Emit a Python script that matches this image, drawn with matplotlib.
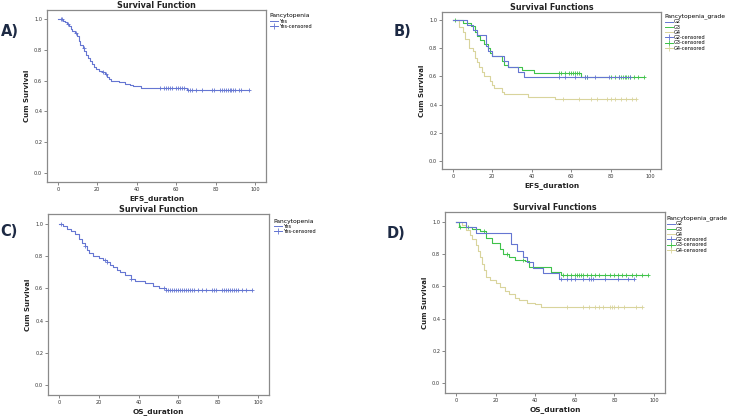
import numpy as np
import matplotlib.pyplot as plt

# ---- data ----
# A) EFS, pancytopenia = Yes
a_times = [0, 2.5, 3.5, 4.5, 5.5, 6.5, 7.0, 8.5, 9.5, 10.5, 11.0, 12.5, 13.5, 14.5, 15.5,
           16.5, 17.5, 18.5, 19.5, 21.0, 22.5, 24.0, 25.0, 26.0, 27.0, 31.0, 34.0, 36.5,
           38.0, 42.0, 65.5]
a_surv = [1.0, 0.99, 0.98, 0.97, 0.955, 0.935, 0.92, 0.91, 0.89, 0.86, 0.83, 0.81, 0.79,
          0.77, 0.75, 0.73, 0.71, 0.69, 0.675, 0.665, 0.655, 0.64, 0.625, 0.61, 0.60,
          0.59, 0.58, 0.57, 0.563, 0.553, 0.538]
a_cens = [1.5, 2, 5, 9, 13, 23, 24.5, 52, 54, 55, 56, 57, 58, 60, 61, 62, 63, 64, 66, 67,
          68, 70, 73, 78, 79, 82, 83, 84, 85, 86, 87, 88, 89, 90, 92, 93, 97]

# C) OS, pancytopenia = Yes
c_times = [0, 2, 4, 6, 8, 10, 11.5, 13, 14, 15, 17, 20, 22, 24, 25.5, 27, 29, 30.5, 33,
           36, 38, 43, 47, 50, 54]
c_surv = [1.0, 0.985, 0.97, 0.955, 0.935, 0.905, 0.88, 0.86, 0.84, 0.82, 0.80, 0.79,
          0.775, 0.76, 0.745, 0.73, 0.715, 0.70, 0.68, 0.66, 0.645, 0.63, 0.615, 0.60, 0.588]
c_cens = [1, 13, 23, 24, 36, 53, 54, 55, 56, 57, 58, 59, 60, 61, 62, 63, 64, 65, 66, 67,
          68, 70, 72, 74, 77, 78, 79, 82, 83, 84, 85, 86, 87, 88, 89, 90, 92, 94, 97]

# B) EFS by grade
b_g2_times = [0, 7, 10, 12, 17, 18, 20, 26, 28, 33, 36]
b_g2_surv = [1.0, 0.965, 0.93, 0.895, 0.82, 0.78, 0.745, 0.71, 0.67, 0.63, 0.595]
b_g2_cens = [54, 57, 62, 67, 68, 72, 79, 84, 90]
b_g3_times = [0, 5, 9, 11, 12, 14, 16, 18, 19, 20, 25, 26, 28, 35, 41, 65]
b_g3_surv = [1.0, 0.98, 0.96, 0.92, 0.89, 0.86, 0.83, 0.80, 0.77, 0.745, 0.71, 0.68,
             0.665, 0.645, 0.628, 0.598]
b_g3_cens = [1, 54, 55, 57, 59, 60, 61, 62, 63, 64, 67, 68, 80, 82, 84, 85, 86, 87, 88,
             89, 90, 92, 94, 97]
b_g4_times = [0, 3, 5, 6, 8, 10, 11, 12, 13, 15, 16, 19, 20, 21, 25, 26, 38, 52]
b_g4_surv = [1.0, 0.95, 0.92, 0.87, 0.80, 0.78, 0.73, 0.70, 0.67, 0.63, 0.60, 0.57,
             0.54, 0.515, 0.49, 0.472, 0.455, 0.437]
b_g4_cens = [56, 64, 70, 73, 78, 80, 82, 85, 88, 91, 93]

# D) OS by grade
d_g2_times = [0, 5, 10, 28, 31, 34, 36, 39, 44, 52]
d_g2_surv = [1.0, 0.965, 0.93, 0.86, 0.82, 0.78, 0.75, 0.715, 0.68, 0.645]
d_g2_cens = [53, 56, 58, 60, 64, 67, 68, 69, 75, 82, 87, 90]
d_g3_times = [0, 1.5, 8, 12, 15, 18, 22, 24, 27, 30, 35, 37, 48, 53]
d_g3_surv = [1.0, 0.97, 0.955, 0.94, 0.90, 0.87, 0.834, 0.80, 0.78, 0.765, 0.755, 0.72,
             0.69, 0.672]
d_g3_cens = [2, 6, 14, 26, 34, 54, 56, 58, 60, 61, 62, 63, 64, 66, 68, 70, 72, 75, 78,
             80, 82, 84, 86, 89, 91, 94, 97]
d_g4_times = [0, 3, 5, 7, 8, 10, 11, 12, 13, 14, 15, 17, 20, 22, 25, 27, 30, 32, 36, 40, 43]
d_g4_surv = [1.0, 0.98, 0.95, 0.92, 0.89, 0.855, 0.82, 0.78, 0.74, 0.70, 0.66, 0.64,
             0.62, 0.595, 0.57, 0.55, 0.53, 0.515, 0.50, 0.49, 0.471]
d_g4_cens = [56, 64, 67, 70, 72, 74, 78, 79, 80, 82, 85, 91, 94]

BLUE = '#6576d2'
GREEN = '#3fc24a'
KHAKI = '#d9d49c'
FRAME = '#8a8a8a'
W, H = 732, 419


def km(ax, times, surv, cens, color):
    t = np.array(times, float)
    s = np.array(surv, float)
    end = max(max(cens), t[-1])
    ax.step(np.append(t, end), np.append(s, s[-1]), where='post', color=color, lw=0.8)
    idx = np.searchsorted(t, np.array(cens, float), side='right') - 1
    ax.plot(cens, s[idx], ls='none', marker='+', ms=3.5, mew=0.6, color=color)


def make_axes(fig, box, title, xlabel):
    x0, y0, x1, y1 = box
    ax = fig.add_axes([x0 / W, 1 - y1 / H, (x1 - x0) / W, (y1 - y0) / H])
    ax.set_xlim(-5.5, 105.5)
    ax.set_ylim(-0.06, 1.06)
    ax.set_xticks([0, 20, 40, 60, 80, 100])
    ax.set_yticks([0.0, 0.2, 0.4, 0.6, 0.8, 1.0])
    ax.set_yticklabels(['0.0', '0.2', '0.4', '0.6', '0.8', '1.0'])
    ax.tick_params(labelsize=3.6, length=2, width=0.5, color='#555555', pad=1.5,
                   labelcolor='#333333')
    for sp in ax.spines.values():
        sp.set_color(FRAME)
        sp.set_linewidth(0.9)
    ax.set_title(title, fontsize=5.8, fontweight='bold', pad=1.5, color='#222222')
    ax.set_xlabel(xlabel, fontsize=5.3, fontweight='bold', labelpad=2, color='#222222')
    ax.set_ylabel('Cum Survival', fontsize=5.0, fontweight='bold', labelpad=3,
                  color='#222222')
    return ax


def legend(ax, fig, pos, title, entries):
    handles = []
    labels = []
    for lab, col, cens in entries:
        if cens:
            h, = ax.plot([], [], color=col, lw=0.7, marker='+', ms=4, mew=0.6)
        else:
            h, = ax.plot([], [], color=col, lw=0.7)
        handles.append(h)
        labels.append(lab)
    lg = fig.legend(handles, labels, title=title, loc='upper left',
                    bbox_to_anchor=(pos[0] / W, 1 - pos[1] / H), frameon=False,
                    fontsize=3.6, title_fontsize=4.3, handlelength=1.6,
                    handletextpad=0.3, labelspacing=0.05, borderpad=0.2)
    lg._legend_box.align = 'left'


fig = plt.figure(figsize=(W / 100, H / 100), dpi=100)
fig.patch.set_facecolor('white')

# A
axA = make_axes(fig, (47, 10, 266, 182), 'Survival Function', 'EFS_duration')
km(axA, a_times, a_surv, a_cens, BLUE)
legend(axA, fig, (266, 10), 'Pancytopenia', [('Yes', BLUE, False), ('Yes-censored', BLUE, True)])

# B
axB = make_axes(fig, (442, 12, 661, 169), 'Survival Functions', 'EFS_duration')
km(axB, b_g4_times, b_g4_surv, b_g4_cens, KHAKI)
km(axB, b_g3_times, b_g3_surv, b_g3_cens, GREEN)
km(axB, b_g2_times, b_g2_surv, b_g2_cens, BLUE)
legend(axB, fig, (661, 10), 'Pancytopenia_grade',
       [('G2', BLUE, False), ('G3', GREEN, False), ('G4', KHAKI, False),
        ('G2-censored', BLUE, True), ('G3-censored', GREEN, True), ('G4-censored', KHAKI, True)])

# C
axC = make_axes(fig, (48, 214, 269, 395), 'Survival Function', 'OS_duration')
km(axC, c_times, c_surv, c_cens, BLUE)
legend(axC, fig, (270, 215), 'Pancytopenia', [('Yes', BLUE, False), ('Yes-censored', BLUE, True)])

# D
axD = make_axes(fig, (445, 212, 665, 393), 'Survival Functions', 'OS_duration')
km(axD, d_g4_times, d_g4_surv, d_g4_cens, KHAKI)
km(axD, d_g3_times, d_g3_surv, d_g3_cens, GREEN)
km(axD, d_g2_times, d_g2_surv, d_g2_cens, BLUE)
legend(axD, fig, (663, 212), 'Pancytopenia_grade',
       [('G2', BLUE, False), ('G3', GREEN, False), ('G4', KHAKI, False),
        ('G2-censored', BLUE, True), ('G3-censored', GREEN, True), ('G4-censored', KHAKI, True)])

# panel letters
for lab, x, y in [('A)', 1, 31), ('B)', 394, 31), ('C)', 0, 231), ('D)', 387, 233)]:
    fig.text(x / W, 1 - y / H, lab, fontsize=10.5, fontweight='bold', color='#1d2a44',
             va='center', ha='left')

fig.savefig('out.png', dpi=100, facecolor='white')
